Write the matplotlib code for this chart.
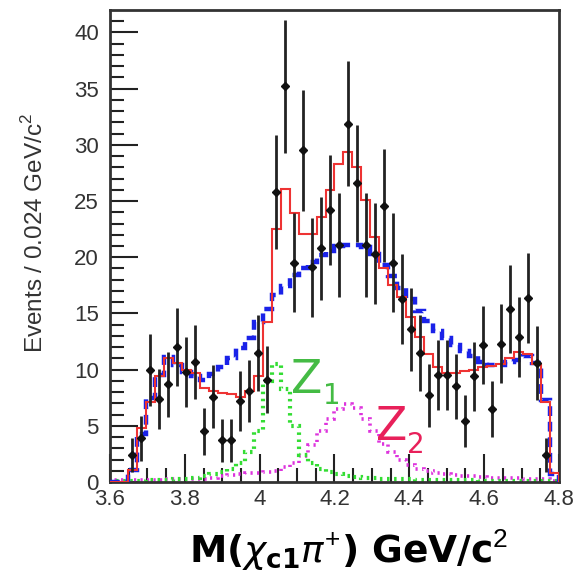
import numpy as np
import matplotlib
matplotlib.use("Agg")
import matplotlib.pyplot as plt

# ---- data (50 bins of 0.024 GeV from 3.6 to 4.8) ----
x_lo, x_hi, n_bins = 3.6, 4.8, 50

counts = [0, 0, 2.4, 3.9, 10.0, 7.4, 8.7, 12.0, 9.8, 10.7,
          4.5, 7.6, 3.7, 3.7, 7.2, 8.1, 11.5, 9.1, 25.8, 35.2,
          19.5, 29.5, 19.1, 20.8, 24.2, 21.1, 31.9, 26.6, 21.1, 20.3,
          24.6, 19.5, 16.3, 13.6, 11.5, 7.7, 9.5, 9.5, 8.5, 5.4,
          9.4, 12.2, 6.5, 12.3, 15.4, 12.9, 16.4, 10.6, 2.4, 0]
errors = [0, 0, 1.5, 2.0, 3.2, 2.7, 2.9, 3.5, 3.1, 3.3,
          2.1, 2.8, 1.9, 1.9, 2.7, 2.8, 3.4, 3.0, 5.1, 5.9,
          4.4, 5.4, 4.4, 4.6, 4.9, 4.6, 5.6, 5.2, 4.6, 4.5,
          5.0, 4.4, 4.0, 3.7, 3.4, 2.8, 3.1, 3.1, 2.9, 2.3,
          3.1, 3.5, 2.5, 3.5, 3.9, 3.6, 4.0, 3.3, 1.5, 0]

fit_total = [0, 0, 1.1, 4.8, 7.1, 9.4, 11.0, 10.6, 10.0, 9.7,
             8.4, 8.1, 7.9, 7.8, 7.6, 8.1, 9.4, 14.2, 22.5, 26.1,
             23.9, 22.1, 22.1, 23.6, 26.0, 28.3, 29.4, 28.0, 25.1, 21.8,
             19.0, 17.5, 16.5, 14.7, 12.9, 11.4, 10.2, 9.7, 9.7, 9.9,
             10.0, 10.2, 10.3, 10.5, 11.0, 11.6, 11.4, 10.5, 7.1, 0.8]

fit_no_z = [0, 0, 1.1, 4.3, 7.5, 9.5, 11.1, 10.4, 9.8, 9.4,
            9.1, 9.6, 10.2, 11.0, 11.9, 12.8, 14.2, 15.4, 16.6, 17.4,
            18.4, 19.0, 19.6, 20.2, 20.6, 21.0, 21.1, 21.1, 20.9, 20.3,
            19.3, 18.3, 17.3, 16.3, 15.2, 14.3, 13.4, 12.8, 12.2, 11.7,
            11.2, 10.7, 10.4, 10.4, 10.7, 10.9, 11.2, 10.6, 7.3, 0.7]

z1 = [0.1, 0.1, 0.1, 0.1, 0.15, 0.15, 0.2, 0.25, 0.3, 0.4,
      0.5, 0.7, 0.9, 1.2, 1.7, 2.7, 4.5, 9.0, 10.5, 8.3,
      5.0, 2.4, 1.7, 1.2, 0.9, 0.7, 0.55, 0.45, 0.4, 0.35,
      0.3, 0.3, 0.25, 0.25, 0.2, 0.2, 0.2, 0.15, 0.15, 0.15,
      0.15, 0.1, 0.1, 0.1, 0.1, 0.1, 0.1, 0.1, 0.1, 0.05]

z2 = [0.15, 0.15, 0.15, 0.2, 0.2, 0.2, 0.25, 0.25, 0.3, 0.3,
      0.3, 0.4, 0.5, 0.6, 0.7, 0.8, 0.8, 0.9, 1.0, 1.3,
      1.7, 2.3, 3.3, 4.5, 5.6, 6.5, 6.9, 6.6, 5.6, 4.5,
      3.4, 2.7, 2.0, 1.5, 1.2, 1.0, 0.8, 0.7, 0.6, 0.55,
      0.5, 0.45, 0.4, 0.4, 0.35, 0.35, 0.3, 0.3, 0.25, 0.1]

x_ticks = [3.6, 3.8, 4.0, 4.2, 4.4, 4.6, 4.8]
x_tick_labels = ["3.6", "3.8", "4", "4.2", "4.4", "4.6", "4.8"]
y_ticks = [0, 5, 10, 15, 20, 25, 30, 35, 40]

plt.rcParams["font.family"] = ["Liberation Sans", "DejaVu Sans"]
plt.rcParams["mathtext.fontset"] = "custom"
plt.rcParams["mathtext.rm"] = "Liberation Sans"

# ---- figure ----
fig = plt.figure(figsize=(5.78, 5.82), dpi=100)
ax = fig.add_axes([0.1903, 0.1718, 0.9671 - 0.1903, 0.9828 - 0.1718])

edges = np.linspace(x_lo, x_hi, n_bins + 1)
centers = 0.5 * (edges[:-1] + edges[1:])

ax.stairs(z2, edges, color="#dd33dd", lw=2.6, ls=(0, (0.6, 1.2)), zorder=2)
ax.stairs(z1, edges, color="#33dd33", lw=3.0, ls=(0, (0.6, 1.1)), zorder=2)
ax.stairs(fit_no_z, edges, color="#1a22e8", lw=3.2, ls=(0, (2.2, 1.3)), zorder=3)
ax.stairs(fit_total, edges, color="#ee3333", lw=1.5, zorder=4)

c = np.array(counts)
e = np.array(errors)
m = c > 0
ax.errorbar(centers[m], c[m], yerr=e[m], fmt="D", ms=4.5, color="#111111",
            ecolor="#222222", elinewidth=2.0, capsize=0, zorder=5)

ax.text(4.085, 7.9, "Z", color="#44bb44", fontsize=33, ha="left", va="baseline",
        family="DejaVu Sans")
ax.text(4.168, 6.9, "1", color="#44bb44", fontsize=20, ha="left", va="baseline",
        family="DejaVu Sans")
ax.text(4.31, 3.7, "Z", color="#e8205a", fontsize=33, ha="left", va="baseline",
        family="DejaVu Sans")
ax.text(4.393, 2.6, "2", color="#e8205a", fontsize=20, ha="left", va="baseline",
        family="DejaVu Sans")

ax.set_xlim(x_lo, x_hi)
ax.set_ylim(0, 42)
ax.set_xticks(x_ticks)
ax.set_xticklabels(x_tick_labels)
ax.set_yticks(y_ticks)
ax.set_xticks(np.arange(3.65, 4.8, 0.05), minor=True)
ax.set_yticks(np.arange(1, 42, 1), minor=True)

ax.tick_params(axis="both", which="major", direction="in", length=20, width=1.5,
               color="#222222", labelsize=16, labelcolor="#333333")
ax.tick_params(axis="both", which="minor", direction="in", length=10, width=1.5,
               color="#222222")
ax.tick_params(axis="x", which="major", pad=5)
ax.tick_params(axis="y", which="major", pad=8)
for s in ax.spines.values():
    s.set_linewidth(2.0)
    s.set_color("#333333")

ax.set_ylabel("Events / 0.024 GeV/c$^2$", fontsize=17.5, color="#333333")
ax.yaxis.set_label_coords(-0.138, 0.527)
fig.text(0.603, 0.055, r"M($\chi_{\mathbf{c1}}\pi^{+}$) GeV/c$^{2}$",
         fontsize=27, fontweight="bold", ha="center", va="center",
         family="DejaVu Sans")

fig.savefig("out.png", dpi=100)
